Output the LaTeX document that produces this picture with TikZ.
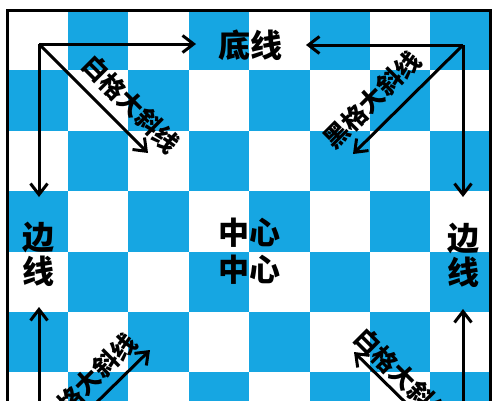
\documentclass[tikz,border=0pt]{standalone}
\usepackage{fontspec}
\newfontfamily\cjk{Noto Sans CJK SC}
\usetikzlibrary{arrows.meta}
\definecolor{boardBlue}{RGB}{22,166,226}
\tikzset{%
	>={Straight Barb[length=11pt,width=17pt]},
	% Specifications for style of nodes:
	base/.style = {inner sep=0pt, text centered, align=center},
	edgeLabel/.style = {base, font=\cjk\bfseries\fontsize{32}{34}\selectfont},
	centerLabel/.style = {base, font=\cjk\bfseries\fontsize{31}{37}\selectfont},
	diagLabel/.style = {base, font=\cjk\bfseries\fontsize{25}{28}\selectfont},
	blueSquare/.style = {fill=boardBlue},
	arrowLine/.style = {->, line width=3pt, black},
}

\begin{document}
\begin{tikzpicture}[x=1pt, y=-1pt]
		% Specification of frame and board
		\useasboundingbox (0,0) rectangle (500,400);
		\clip (0,0) rectangle (500,400);
		\fill[white] (0,0) rectangle (500,400);
		\foreach \row in {0,...,7} {
			\foreach \col in {0,...,7} {
				\pgfmathtruncatemacro{\parity}{mod(\row+\col,2)}
				\ifnum\parity=1
					\fill[blueSquare] ({7.5+60.4*\col},{10+60.4*\row}) rectangle +(60.4,60.4);
				\fi
			}
		}
		\draw[line width=3pt, line join=miter] (7.5,495) |- (490.7,10) -- (490.7,495);
		% Specification of corners and arrow ends
		\coordinate (cornerTL) at (39,44);
		\coordinate (cornerTR) at (463,45);
		\coordinate (cornerBL) at (39,459);
		\coordinate (cornerBR) at (463,459);
		\coordinate (tipTLright) at (196,44);
		\coordinate (tipTLdown)  at (39,197);
		\coordinate (tipTLdiag)  at (148,153);
		\coordinate (tipTRleft)  at (306,45);
		\coordinate (tipTRdown)  at (463,197);
		\coordinate (tipTRdiag)  at (353,154);
		\coordinate (tipBLup)    at (39,307);
		\coordinate (tipBLdiag)  at (150,350);
		\coordinate (tipBRup)    at (463,309);
		\coordinate (tipBRdiag)  at (354,352);
		% Specification of labels
		\node (baseline)   [edgeLabel]             at (250,45)  {底线};
		\node (sideLeft)   [edgeLabel]             at (38,254)  {边\\线};
		\node (sideRight)  [edgeLabel]             at (463,255) {边\\线};
		\node (center)     [centerLabel]           at (249,251) {中心\\中心};
		\node (whiteTop)   [diagLabel, rotate=-45] at (131,104) {白格大斜线};
		\node (blackTop)   [diagLabel, rotate=45]  at (372,100) {黑格大斜线};
		\node (blackBot)   [diagLabel, rotate=45]  at (88,382)  {黑格大斜线};
		\node (whiteBot)   [diagLabel, rotate=-45] at (403,377) {白格大斜线};
		% Specification of arrows
		\draw[arrowLine] (cornerTL) -- (tipTLright);
		\draw[arrowLine] (cornerTL) -- (tipTLdown);
		\draw[arrowLine] (cornerTL) -- (tipTLdiag);
		\draw[arrowLine] (cornerTR) -- (tipTRleft);
		\draw[arrowLine] (cornerTR) -- (tipTRdown);
		\draw[arrowLine] (cornerTR) -- (tipTRdiag);
		\draw[arrowLine] (cornerBL) -- (tipBLup);
		\draw[arrowLine] (cornerBL) -- (tipBLdiag);
		\draw[arrowLine] (cornerBR) -- (tipBRup);
		\draw[arrowLine] (cornerBR) -- (tipBRdiag);
	\end{tikzpicture}
\end{document}
